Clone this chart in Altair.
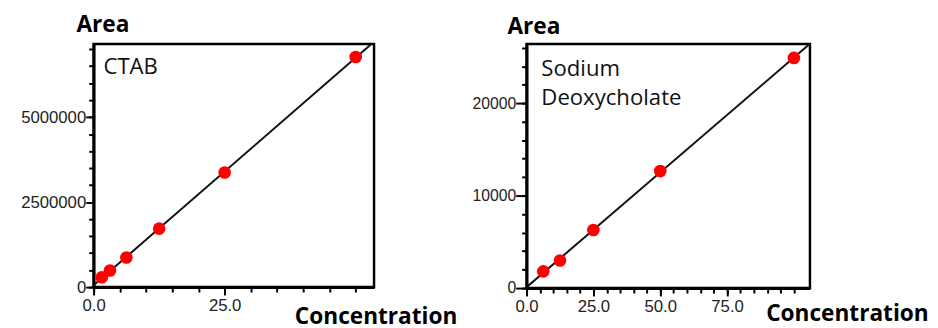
import altair as alt
import pandas as pd

# CTAB calibration
ctab_conc = [1.5625, 3.125, 6.25, 12.5, 25, 50]
ctab_area = [290000, 490000, 870000, 1720000, 3370000, 6770000]
# Sodium Deoxycholate calibration
sdc_conc = [6.25, 12.5, 25, 50, 100]
sdc_area = [1810, 2980, 6280, 12660, 24900]

ctab_major_y = [0, 2500000, 5000000]
ctab_minor_y = [i * 500000 for i in range(0, 15)]
ctab_major_x = [0, 25]
ctab_minor_x = [i * 5 for i in range(0, 11)]

sdc_major_y = [0, 10000, 20000]
sdc_minor_y = [i * 2000 for i in range(0, 14)]
sdc_major_x = [0, 25, 50, 75]
sdc_minor_x = [i * 5 for i in range(0, 21)]

TITLE_FONT = "Open Sans"
LABEL_FONT = "Liberation Sans"


def panel(conc, area, label_lines, xdom, ydom, major_x, minor_x, major_y, minor_y,
          w, h, ylab_size, ytick, ytx, yty, xtx, xty, lab_x, lab_y, yfmt):
    df = pd.DataFrame({"conc": conc, "area": area})
    base = alt.Chart(df)
    xs = alt.Scale(domain=xdom, nice=False, zero=False)
    ys = alt.Scale(domain=ydom, nice=False, zero=False)

    x_major = alt.Axis(values=major_x, format=".1f", tickSize=8, tickWidth=2, tickColor="black",
                       domainWidth=3, domainColor="black", labelFont=LABEL_FONT, labelFontSize=17,
                       labelColor="#222", labelPadding=3, grid=False, title="Concentration",
                       titleFont=TITLE_FONT, titleFontSize=23, titleFontWeight="bold", titleColor="black",
                       titleX=xtx, titleY=xty, titleAlign="left", titleBaseline="alphabetic",
                       labelFlush=False, labelOverlap=False, orient="bottom")
    y_major = alt.Axis(values=major_y, format=yfmt, tickSize=ytick, tickWidth=2, tickColor="black",
                       domainWidth=3, domainColor="black", labelFont=LABEL_FONT, labelFontSize=ylab_size,
                       labelColor="#222", labelPadding=0, grid=False, title="Area",
                       titleFont=TITLE_FONT, titleFontSize=23, titleFontWeight="bold", titleColor="black",
                       titleAngle=0, titleX=ytx, titleY=yty, titleAlign="left", titleBaseline="alphabetic",
                       labelFlush=False, labelOverlap=False, orient="left")
    x_minor = alt.Axis(values=minor_x, tickSize=5, tickWidth=2, tickColor="black", labels=False,
                       domain=False, grid=False, title=None, orient="bottom")
    y_minor = alt.Axis(values=minor_y, tickSize=5, tickWidth=2, tickColor="black", labels=False,
                       domain=False, grid=False, title=None, orient="left")

    minor = base.mark_point(opacity=0).encode(
        x=alt.X("conc:Q", scale=xs, axis=x_minor),
        y=alt.Y("area:Q", scale=ys, axis=y_minor),
    )
    line = base.transform_regression("conc", "area", extent=xdom).mark_line(
        color="#111", strokeWidth=2, clip=True
    ).encode(
        x=alt.X("conc:Q", scale=xs, axis=x_major),
        y=alt.Y("area:Q", scale=ys, axis=y_major),
    )
    pts = base.mark_circle(color="#ff0000", opacity=1, size=165).encode(
        x=alt.X("conc:Q", scale=xs, axis=None),
        y=alt.Y("area:Q", scale=ys, axis=None),
    )
    txt = alt.Chart(pd.DataFrame({"t": [0]})).mark_text(
        align="left", baseline="alphabetic", font=TITLE_FONT, fontSize=22.5, color="#111",
        lineHeight=30
    ).encode(x=alt.value(lab_x), y=alt.value(lab_y), text=alt.value(label_lines))
    return alt.layer(minor, line, pts, txt).resolve_axis(x="independent", y="independent").properties(
        width=w, height=h)


left = panel(ctab_conc, ctab_area, ["CTAB"], [0, 53.5], [0, 7150000],
             ctab_major_x, ctab_minor_x, ctab_major_y, ctab_minor_y,
             285, 247, 17, 8, -18, -13, 204, 37, 10, 30, "d")
right = panel(sdc_conc, sdc_area, ["Sodium", "Deoxycholate"], [0, 106], [0, 26400],
              sdc_major_x, sdc_minor_x, sdc_major_y, sdc_minor_y,
              288, 248, 16, 11, -20, -11, 243, 33, 15, 32, "d")

chart = alt.hconcat(left, right, spacing=155, bounds="flush").configure_view(
    stroke="black", strokeWidth=2.5
).properties(padding={"left": 11, "top": 1, "right": 0, "bottom": 0}, background="white")

chart.save("out.html", embed_options={"renderer": "svg", "actions": False})
